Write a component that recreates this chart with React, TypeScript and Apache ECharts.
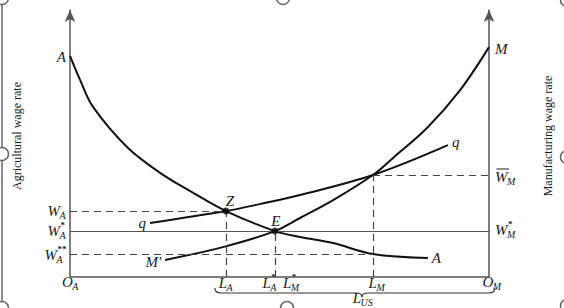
import React, { useEffect, useRef } from 'react';
import * as echarts from 'echarts';

// Curves (x: labour units 0..100 from O_A to O_M, y: wage 0..100)
const aCurve = [[0, 82.8], [2.4, 73.8], [5.5, 63.7], [13.6, 48.7], [21.5, 39.0], [29.4, 31.5], [37.2, 24.7], [48.9, 17.2], [54.9, 15.0], [62.8, 12.7], [72.3, 8.6], [85.4, 7.1]];
const mCurve = [[22.7, 6.4], [36.5, 11.2], [48.9, 17.2], [54.9, 22.1], [62.8, 28.8], [72.3, 38.2], [77.1, 44.6], [85.2, 55.8], [93.1, 70.0], [100, 86.1]];
const qCurve = [[19.1, 20.2], [37.2, 24.7], [45.3, 27.3], [54.9, 30.7], [72.3, 38.2], [90.2, 49.4]];

// Key levels
const lA = 37.2, lStar = 48.9, lM = 72.3;
const wA = 24.7, wStar = 17.2, wAss = 8.6, wMbar = 38.2;
const eqPoints = [[lA, wA], [lStar, wStar]];

const MAIN = 'italic 15px "Liberation Serif"';
const SUB = 'italic 10px "Liberation Serif"';
const SUP = 'bold 9px "Liberation Serif"';
const TXT = '#1a1a1a';

export default function App() {
  const ref = useRef<HTMLDivElement>(null);
  useEffect(() => {
    const chart = echarts.init(ref.current!, null, { renderer: 'svg' });
    const axisLineStyle = { color: '#555', width: 1.5 };
    const hidden = { axisTick: { show: false }, axisLabel: { show: false }, splitLine: { show: false } };
    const dash = { color: '#444', width: 1.2, type: [7, 5] };
    chart.setOption({
      animation: false,
      grid: { left: 70, right: 75, top: 10, bottom: 31 },
      xAxis: { type: 'value', min: 0, max: 100, axisLine: { show: true, onZero: false, lineStyle: axisLineStyle }, ...hidden },
      yAxis: [
        { type: 'value', min: 0, max: 100, position: 'left', axisLine: { show: true, onZero: false, symbol: ['none', 'arrow'], symbolSize: [8, 12], lineStyle: axisLineStyle }, ...hidden },
        { type: 'value', min: 0, max: 100, position: 'right', axisLine: { show: true, onZero: false, symbol: ['none', 'arrow'], symbolSize: [8, 12], lineStyle: axisLineStyle }, ...hidden },
      ],
      series: [
        { type: 'line', data: aCurve, smooth: 0.35, symbol: 'none', lineStyle: { color: '#111', width: 2 }, z: 3, silent: true },
        { type: 'line', data: mCurve, smooth: 0.35, symbol: 'none', lineStyle: { color: '#111', width: 2 }, z: 3, silent: true },
        { type: 'line', data: qCurve, smooth: 0.35, symbol: 'none', lineStyle: { color: '#111', width: 2 }, z: 3, silent: true },
        {
          type: 'line', data: [], silent: true,
          markLine: {
            silent: true, symbol: ['none', 'none'], label: { show: false }, lineStyle: dash,
            data: [
              [{ coord: [0, wA] }, { coord: [lA, wA] }],
              [{ coord: [0, wAss] }, { coord: [lM, wAss] }],
              [{ coord: [lM, wMbar] }, { coord: [100, wMbar] }],
              [{ coord: [lA, 0] }, { coord: [lA, wA] }],
              [{ coord: [lStar, 0] }, { coord: [lStar, wStar] }],
              [{ coord: [lM, 0] }, { coord: [lM, wMbar] }],
            ],
          },
        },
        {
          type: 'line', data: [], silent: true,
          markLine: {
            silent: true, symbol: ['none', 'none'], label: { show: false }, lineStyle: { color: '#555', width: 1, type: 'solid' },
            data: [[{ coord: [0, wStar] }, { coord: [100, wStar] }]],
          },
        },
        { type: 'scatter', data: eqPoints, symbolSize: 7, itemStyle: { color: '#000' }, z: 5, silent: true },
      ],
    });

    const P = (x: number, y: number) => chart.convertToPixel({ gridIndex: 0 }, [x, y]) as number[];
    const ctx = document.createElement('canvas').getContext('2d')!;
    const tw = (t: string, f: string) => { ctx.font = f; return ctx.measureText(t).width; };
    const txt = (text: string, x: number, y: number, font: string, align = 'left') => ({
      type: 'text', x, y, silent: true,
      style: { text, font, fill: TXT, textAlign: align, textVerticalAlign: 'middle', align, verticalAlign: 'middle' },
    });
    const sym = (main: string, sub: string, sup: string, x: number, y: number, align: 'left' | 'right' | 'center', bar = false) => {
      const mw = tw(main, MAIN);
      const sw = Math.max(sub ? tw(sub, SUB) : 0, sup ? tw(sup, SUP) : 0);
      const total = mw + sw;
      const x0 = align === 'right' ? x - total : align === 'center' ? x - total / 2 : x;
      const ch: any[] = [txt(main, x0, y, MAIN)];
      if (sub) ch.push(txt(sub, x0 + mw - 0.5, y + 4, SUB));
      if (sup) ch.push(txt(sup, x0 + mw + 0.5, y - 6, SUP));
      if (bar) ch.push({ type: 'line', silent: true, shape: { x1: x0 + 1.5, y1: y - 8, x2: x0 + mw + 1.5, y2: y - 8 }, style: { stroke: TXT, lineWidth: 1 } });
      return ch;
    };

    const o = P(0, 0);
    const right = P(100, 0)[0];
    const leftX = o[0] - 4;
    const rightX = right + 6;
    const by = o[1] + 6;
    const aS = P(aCurve[0][0], aCurve[0][1]);
    const aE = P(aCurve[aCurve.length - 1][0], aCurve[aCurve.length - 1][1]);
    const mS = P(mCurve[0][0], mCurve[0][1]);
    const mE = P(mCurve[mCurve.length - 1][0], mCurve[mCurve.length - 1][1]);
    const qS = P(qCurve[0][0], qCurve[0][1]);
    const qE = P(qCurve[qCurve.length - 1][0], qCurve[qCurve.length - 1][1]);
    const z = P(lA, wA);
    const e = P(lStar, wStar);
    const lMx = P(lM, 0)[0];

    const els: any[] = [
      ...sym('A', '', '', leftX, aS[1] + 1, 'right'),
      ...sym('W', 'A', '', leftX, P(0, wA)[1], 'right'),
      ...sym('W', 'A', '*', leftX, P(0, wStar)[1], 'right'),
      ...sym('W', 'A', '**', leftX, P(0, wAss)[1] + 1, 'right'),
      ...sym('M', '', '', rightX, mE[1] + 2, 'left'),
      ...sym('W', 'M', '', rightX, P(100, wMbar)[1] + 2, 'left', true),
      ...sym('W', 'M', '*', rightX, P(100, wStar)[1] - 1, 'left'),
      ...sym('O', 'A', '', o[0] - 8, by - 1, 'left'),
      ...sym('L', 'A', '', z[0], by, 'center'),
      ...sym('L', 'A', '*', e[0] + 2, by, 'right'),
      ...sym('L', 'M', '*', e[0] + 8, by, 'left'),
      ...sym('L', 'M', '', lMx + 4, by, 'center'),
      ...sym('O', 'M', '', right + 3, by - 1, 'center'),
      ...sym('L', 'US', '', lMx - 10, o[1] + 21, 'center'),
      ...sym('q', '', '', qS[0] - 4, qS[1], 'right'),
      ...sym('q', '', '', qE[0] + 4, qE[1] - 3, 'left'),
      ...sym("M'", '', '', mS[0] - 4, mS[1] + 2, 'right'),
      ...sym('A', '', '', aE[0] + 4, aE[1], 'left'),
      ...sym('Z', '', '', z[0] + 4, z[1] - 10, 'center'),
      ...sym('E', '', '', e[0] + 1, e[1] - 10, 'center'),
    ];

    // Brace under L_A .. O_M
    const bl = z[0] - 11, br = right + 6, tip = lMx - 11;
    const yTop = o[1] + 11, yMid = o[1] + 16, yTip = o[1] + 20;
    const bs = { stroke: '#333', lineWidth: 1.2, fill: 'none' };
    els.push(
      { type: 'bezierCurve', silent: true, shape: { x1: bl, y1: yTop, cpx1: bl, cpy1: yMid, x2: bl + 6, y2: yMid }, style: bs },
      { type: 'line', silent: true, shape: { x1: bl + 6, y1: yMid, x2: tip - 6, y2: yMid }, style: bs },
      { type: 'bezierCurve', silent: true, shape: { x1: tip - 6, y1: yMid, cpx1: tip, cpy1: yMid, x2: tip, y2: yTip }, style: bs },
      { type: 'bezierCurve', silent: true, shape: { x1: tip, y1: yTip, cpx1: tip, cpy1: yMid, x2: tip + 6, y2: yMid }, style: bs },
      { type: 'line', silent: true, shape: { x1: tip + 6, y1: yMid, x2: br - 6, y2: yMid }, style: bs },
      { type: 'bezierCurve', silent: true, shape: { x1: br - 6, y1: yMid, cpx1: br, cpy1: yMid, x2: br, y2: yTop }, style: bs },
    );

    // Axis names
    els.push(
      { type: 'text', x: 17, y: 136, rotation: Math.PI / 2, silent: true, style: { text: 'Agricultural wage rate', font: '12px "Liberation Serif"', fill: TXT, textAlign: 'center', textVerticalAlign: 'middle', align: 'center', verticalAlign: 'middle' } },
      { type: 'text', x: 548, y: 136, rotation: Math.PI / 2, silent: true, style: { text: 'Manufacturing wage rate', font: '12px "Liberation Serif"', fill: TXT, textAlign: 'center', textVerticalAlign: 'middle', align: 'center', verticalAlign: 'middle' } },
    );

    // Selection handles frame
    els.push({ type: 'line', silent: true, shape: { x1: 2, y1: 0, x2: 2, y2: 308 }, style: { stroke: '#666', lineWidth: 1.5 } });
    const handles = [[2, -2], [2, 154], [2, 308], [283, -2], [287, 308], [567, 0], [567, 157], [567, 306]];
    handles.forEach(([cx, cy]) => els.push({ type: 'circle', silent: true, z: 100, shape: { cx, cy, r: 6.5 }, style: { fill: '#fff', stroke: '#666', lineWidth: 1.5 } }));

    chart.setOption({ graphic: { elements: els } });
    return () => chart.dispose();
  }, []);
  return <div ref={ref} style={{ position: 'absolute', left: 0, top: 0, width: 564, height: 308, background: '#fff' }} />;
}
